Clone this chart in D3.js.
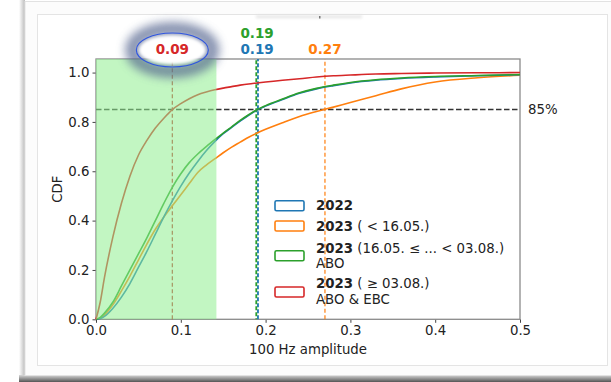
<!DOCTYPE html>
<html>
<head>
<meta charset="utf-8">
<script src="https://cdn.jsdelivr.net/npm/d3@7"></script>
<style>
  body { margin: 0; background: #fff; }
  svg { display: block; }
</style>
</head>
<body>
<svg></svg>
<script>
const width = 611;
const height = 382;
const margin = { top: 59, right: 91, bottom: 62.7, left: 96 };

// amplitude grid shared by all CDF curves
const amplitude = [0, 0.005, 0.01, 0.02, 0.03, 0.04, 0.05, 0.06, 0.07, 0.08, 0.09, 0.1, 0.11, 0.12, 0.13, 0.14, 0.15, 0.16, 0.17, 0.18, 0.19, 0.2, 0.22, 0.24, 0.26, 0.28, 0.30, 0.33, 0.36, 0.40, 0.45, 0.50];

const cdf2022 = [0, 0.003, 0.012, 0.045, 0.09, 0.145, 0.21, 0.275, 0.345, 0.415, 0.48, 0.54, 0.593, 0.64, 0.683, 0.72, 0.752, 0.778, 0.803, 0.827, 0.848, 0.864, 0.891, 0.916, 0.934, 0.947, 0.958, 0.969, 0.976, 0.982, 0.987, 0.991];
const cdf2023a = [0, 0.004, 0.018, 0.06, 0.115, 0.175, 0.24, 0.305, 0.365, 0.415, 0.46, 0.505, 0.55, 0.595, 0.625, 0.65, 0.675, 0.698, 0.718, 0.738, 0.755, 0.77, 0.797, 0.822, 0.842, 0.86, 0.879, 0.906, 0.934, 0.962, 0.979, 0.989];
const cdf2023b = [0, 0.008, 0.025, 0.07, 0.135, 0.2, 0.265, 0.33, 0.4, 0.47, 0.535, 0.59, 0.635, 0.67, 0.7, 0.728, 0.755, 0.78, 0.806, 0.829, 0.85, 0.866, 0.893, 0.918, 0.936, 0.949, 0.96, 0.971, 0.978, 0.984, 0.988, 0.992];
const cdf2023c = [0, 0.07, 0.17, 0.335, 0.47, 0.58, 0.665, 0.725, 0.775, 0.815, 0.85, 0.874, 0.894, 0.91, 0.921, 0.93, 0.937, 0.943, 0.949, 0.954, 0.958, 0.962, 0.969, 0.975, 0.982, 0.987, 0.99, 0.994, 0.996, 0.998, 0.999, 1.0];

const seriesNames = ["2022", "2023a", "2023b", "2023c"];
const seriesColors = ["#1f77b4", "#ff7f0e", "#2ca02c", "#d62728"];
const seriesValues = [cdf2022, cdf2023a, cdf2023b, cdf2023c];

// 85% quantile of each series
const quantile85 = [0.191, 0.27, 0.189, 0.09];
const quantileLabels = ["0.19", "0.27", "0.19", "0.09"];
const level = 0.85;
const shadedMax = 0.142;

const xTicks = [0, 0.1, 0.2, 0.3, 0.4, 0.5];
const yTicks = [0, 0.2, 0.4, 0.6, 0.8, 1.0];

const legendLines = [
  [["2022", ""]],
  [["2023", " ( < 16.05.)"]],
  [["2023", " (16.05. ≤ ... < 03.08.)"], ["", "ABO"]],
  [["2023", " ( ≥ 03.08.)"], ["", "ABO & EBC"]]
];

const font = '"DejaVu Sans", sans-serif';
const textColor = "#222";

const svg = d3.select("svg")
  .attr("width", width)
  .attr("height", height)
  .style("font-family", font);

const defs = svg.append("defs");
const blur = defs.append("filter").attr("id", "blur").attr("x", "-50%").attr("y", "-50%").attr("width", "200%").attr("height", "200%");
blur.append("feGaussianBlur").attr("stdDeviation", 5);
const soft = defs.append("filter").attr("id", "soft").attr("x", "-20%").attr("y", "-200%").attr("width", "140%").attr("height", "500%");
soft.append("feGaussianBlur").attr("stdDeviation", 1.5);

const bottomShade = defs.append("linearGradient").attr("id", "bottomShade").attr("x1", 0).attr("y1", 0).attr("x2", 0).attr("y2", 1);
bottomShade.append("stop").attr("offset", 0).attr("stop-color", "#d8d8d8");
bottomShade.append("stop").attr("offset", 1).attr("stop-color", "#555");
const leftShade = defs.append("linearGradient").attr("id", "leftShade").attr("x1", 0).attr("y1", 0).attr("x2", 1).attr("y2", 0);
leftShade.append("stop").attr("offset", 0).attr("stop-color", "#fff");
leftShade.append("stop").attr("offset", 1).attr("stop-color", "#bbb");

// screenshot frame
svg.append("rect").attr("x", 0).attr("y", 0).attr("width", width).attr("height", height).attr("fill", "#fff");
svg.append("rect").attr("x", 19).attr("y", 0).attr("width", 6).attr("height", 378).attr("fill", "url(#leftShade)");
svg.append("rect").attr("x", 19).attr("y", 375).attr("width", 600).attr("height", 7).attr("fill", "url(#bottomShade)");
svg.append("rect").attr("x", 25).attr("y", 1.5).attr("width", 600).attr("height", 374)
  .attr("fill", "#fcfcfc").attr("stroke", "#e2e2e2");
svg.append("rect").attr("x", 37.5).attr("y", 14.5).attr("width", 570).attr("height", 351)
  .attr("fill", "#fff").attr("stroke", "#e4e4e4");
// faded, cut-off title
svg.append("rect").attr("x", 256).attr("y", 15.5).attr("width", 106).attr("height", 2.5)
  .attr("fill", "#e2e2e2").attr("filter", "url(#soft)");
svg.append("rect").attr("x", 319).attr("y", 16).attr("width", 1.5).attr("height", 2.5).attr("fill", "#777");

const x = d3.scaleLinear()
  .domain([0, 0.5])
  .range([margin.left, width - margin.right]);

const y = d3.scaleLinear()
  .domain([0, 1.055])
  .range([height - margin.bottom, margin.top]);

const plotW = x(0.5) - x(0);
const plotH = y(0) - y(1.055);

// axes
svg.append("g")
  .attr("transform", `translate(0,${y(0)})`)
  .call(d3.axisBottom(x).tickValues(xTicks).tickFormat(d3.format(".1f")).tickSizeOuter(0).tickSize(3.5).tickPadding(3))
  .call(g => g.select(".domain").remove())
  .call(g => g.selectAll("line").attr("stroke", "#444"))
  .call(g => g.selectAll("text").attr("fill", textColor).style("font-size", "13.3px").style("font-family", font));

svg.append("g")
  .attr("transform", `translate(${x(0)},0)`)
  .call(d3.axisLeft(y).tickValues(yTicks).tickFormat(d3.format(".1f")).tickSizeOuter(0).tickSize(3.5).tickPadding(3))
  .call(g => g.select(".domain").remove())
  .call(g => g.selectAll("line").attr("stroke", "#444"))
  .call(g => g.selectAll("text").attr("fill", textColor).style("font-size", "13.3px").style("font-family", font));

// spines
svg.append("rect")
  .attr("x", x(0)).attr("y", y(1.055))
  .attr("width", plotW).attr("height", plotH)
  .attr("fill", "none").attr("stroke", "#8a8a8a").attr("stroke-width", 1.3);

svg.append("text")
  .attr("x", (x(0) + x(0.5)) / 2).attr("y", 354)
  .attr("text-anchor", "middle").attr("fill", textColor)
  .style("font-size", "13.3px").text("100 Hz amplitude");

svg.append("text")
  .attr("transform", `translate(62,${(y(0) + y(1.055)) / 2}) rotate(-90)`)
  .attr("text-anchor", "middle").attr("fill", textColor)
  .style("font-size", "13.3px").text("CDF");

// 85% reference line
svg.append("line")
  .attr("x1", x(0)).attr("x2", x(0.5))
  .attr("y1", y(level)).attr("y2", y(level))
  .attr("stroke", "#333").attr("stroke-width", 1.5).attr("stroke-dasharray", "5.5,2.5");

svg.append("text")
  .attr("x", x(0.5) + 8).attr("y", y(level) + 4.5)
  .attr("fill", textColor).style("font-size", "13.3px").text("85%");

// quantile markers
const lineOrder = [1, 3, 0, 2];
lineOrder.forEach(i => {
  svg.append("line")
    .attr("x1", x(quantile85[i])).attr("x2", x(quantile85[i]))
    .attr("y1", y(0)).attr("y2", y(1.055))
    .attr("stroke", i === 3 ? "#c0282a" : seriesColors[i])
    .attr("stroke-width", (i === 0 || i === 2) ? 1.8 : 1.2)
    .attr("stroke-dasharray", (i === 0 || i === 2) ? "4,2" : "4,2.5")
    .attr("stroke-dashoffset", i === 2 ? 3 : 0);
});

// CDF curves
const line = d3.line()
  .x((d, j) => x(amplitude[j]))
  .y(d => y(d))
  .curve(d3.curveMonotoneX);

[1, 0, 2, 3].forEach(i => {
  svg.append("path")
    .datum(seriesValues[i])
    .attr("d", line)
    .attr("fill", "none")
    .attr("stroke", seriesColors[i])
    .attr("stroke-width", 1.6);
});

// shaded band on top
svg.append("rect")
  .attr("x", x(0)).attr("y", y(1.055))
  .attr("width", x(shadedMax) - x(0)).attr("height", plotH)
  .attr("fill", "#90ee90").attr("opacity", 0.55);

// highlight around the red label
const hx = x(quantile85[3]);
svg.append("ellipse")
  .attr("cx", hx).attr("cy", 50).attr("rx", 40).attr("ry", 21)
  .attr("fill", "none").attr("stroke", "#54658f").attr("stroke-width", 14)
  .attr("opacity", 0.7).attr("filter", "url(#blur)");
svg.append("ellipse")
  .attr("cx", hx).attr("cy", 50).attr("rx", 33).attr("ry", 14)
  .attr("fill", "#fff").attr("filter", "url(#soft)");
svg.append("ellipse")
  .attr("cx", hx).attr("cy", 50).attr("rx", 36).attr("ry", 17)
  .attr("fill", "none").attr("stroke", "#2f55e0").attr("stroke-width", 1.1);

// quantile labels
const labelY = [54, 54, 38, 54];
quantile85.forEach((q, i) => {
  svg.append("text")
    .attr("x", x(i === 0 || i === 2 ? 0.19 : q)).attr("y", labelY[i])
    .attr("text-anchor", "middle")
    .attr("fill", seriesColors[i])
    .style("font-size", "13.5px").style("font-weight", "bold")
    .text(quantileLabels[i]);
});

// legend
const legendX = 275;
const patchY = [200.7, 221, 250.7, 287];
const textY = [[210], [231], [252.5, 268], [288, 304]];

seriesNames.forEach((name, i) => {
  svg.append("rect")
    .attr("x", legendX).attr("y", patchY[i])
    .attr("width", 29).attr("height", 10).attr("rx", 1.5)
    .attr("fill", "#fff").attr("stroke", seriesColors[i]).attr("stroke-width", 1.6);

  legendLines[i].forEach((parts, k) => {
    const t = svg.append("text")
      .attr("x", legendX + 41).attr("y", textY[i][k])
      .attr("fill", textColor).style("font-size", "13.3px");
    if (parts[0]) t.append("tspan").style("font-weight", "bold").text(parts[0]);
    if (parts[1]) t.append("tspan").text(parts[1]);
  });
});
</script>
</body>
</html>
